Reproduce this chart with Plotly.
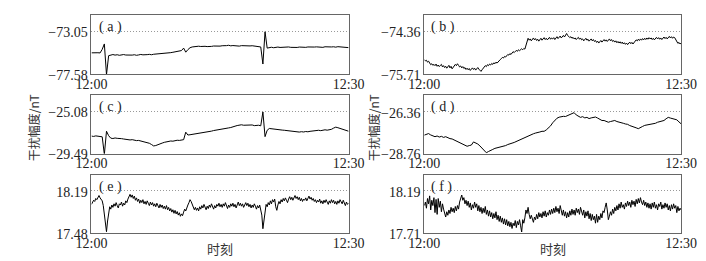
import plotly.graph_objects as go
from plotly.subplots import make_subplots

# ---------------- data (minutes after 12:00) ----------------
panel_labels = ["( a )", "( b )", "( c )", "( d )", "( e )", "( f )"]
x_tick_labels = ["12:00", "12:30"]
y_title = "干扰幅度/nT"
x_title = "时刻"

# tick values: [bottom, dotted reference]
ticks_a = [-77.58, -73.05]
ticks_b = [-75.71, -74.36]
ticks_c = [-29.49, -25.08]
ticks_d = [-28.76, -26.36]
ticks_e = [17.48, 18.19]
ticks_f = [17.71, 18.19]

# 15-s samples
vals_a = [-75.32, -75.30, -75.34, -75.31, -75.33,
          -74.95, -74.38, -77.62, -75.62,
          -75.55, -75.50, -75.56, -75.52, -75.58, -75.54, -75.50, -75.55, -75.57, -75.53, -75.56,
          -75.52, -75.58, -75.54, -75.49, -75.53, -75.56, -75.51, -75.48, -75.52, -75.47,
          -75.45, -75.48, -75.42, -75.40, -75.43, -75.36, -75.33, -75.30, -75.26, -75.22, -75.18, -75.12,
          -75.08, -74.82, -75.25, -74.98, -74.78,
          -74.70, -74.66, -74.68, -74.62, -74.65, -74.60, -74.63, -74.66, -74.61, -74.64, -74.60, -74.62, -74.58, -74.61,
          -74.57, -74.60, -74.56, -74.52, -74.58, -74.55, -74.59, -74.57, -74.61, -74.56, -74.58, -74.60, -74.55, -74.59,
          -74.57, -74.62, -74.60, -74.64, -74.70,
          -76.50, -73.10, -74.82,
          -74.76, -74.73, -74.78, -74.74, -74.71, -74.75, -74.72, -74.77, -74.73, -74.70,
          -74.74, -74.76, -74.72, -74.75, -74.71, -74.73, -74.77, -74.74, -74.70, -74.72,
          -74.75, -74.71, -74.69, -74.73, -74.70, -74.74, -74.68, -74.71, -74.66, -74.70,
          -74.68, -74.72, -74.67, -74.70, -74.73, -74.69, -74.74, -74.77]

# 7.5-s samples
vals_b = [-75.25, -75.29, -75.27, -75.33, -75.30, -75.37, -75.41, -75.38, -75.43, -75.40,
          -75.44, -75.39, -75.46, -75.42, -75.47, -75.43, -75.40, -75.48, -75.44, -75.50,
          -75.46, -75.52, -75.47, -75.43, -75.51, -75.46, -75.54, -75.49, -75.45, -75.40,
          -75.44, -75.38, -75.43, -75.48, -75.45, -75.51, -75.47, -75.53, -75.50, -75.56,
          -75.52, -75.57, -75.53, -75.59, -75.55, -75.51, -75.56, -75.52, -75.58, -75.54,
          -75.50, -75.55, -75.59, -75.62, -75.57, -75.52, -75.48, -75.44, -75.47, -75.41,
          -75.44, -75.39, -75.42, -75.37, -75.40, -75.35, -75.38, -75.33, -75.36, -75.31,
          -75.28, -75.25, -75.22, -75.18, -75.20, -75.15, -75.17, -75.12, -75.09, -75.11,
          -75.06, -75.09, -75.03, -75.00, -75.03, -74.98, -74.96, -74.99, -74.94, -74.97,
          -74.93, -74.91, -74.94, -74.90, -74.92, -74.78, -74.62, -74.58, -74.64, -74.60,
          -74.66, -74.61, -74.57, -74.63, -74.59, -74.65, -74.61, -74.67, -74.62, -74.58,
          -74.64, -74.60, -74.56, -74.62, -74.58, -74.63, -74.59, -74.55, -74.61, -74.57,
          -74.60, -74.56, -74.62, -74.57, -74.53, -74.59, -74.55, -74.51, -74.57, -74.53,
          -74.49, -74.54, -74.46, -74.43, -74.49, -74.52, -74.56, -74.53, -74.58, -74.55,
          -74.60, -74.57, -74.62, -74.58, -74.55, -74.61, -74.57, -74.63, -74.60, -74.66,
          -74.62, -74.58, -74.64, -74.61, -74.67, -74.63, -74.60, -74.66, -74.62, -74.68,
          -74.65, -74.71, -74.67, -74.73, -74.69, -74.65, -74.70, -74.66, -74.62, -74.67,
          -74.63, -74.68, -74.64, -74.60, -74.66, -74.62, -74.68, -74.65, -74.70, -74.66,
          -74.72, -74.68, -74.73, -74.69, -74.74, -74.70, -74.76, -74.72, -74.77, -74.73,
          -74.78, -74.74, -74.70, -74.75, -74.71, -74.76, -74.72, -74.67, -74.63, -74.66,
          -74.61, -74.65, -74.60, -74.64, -74.59, -74.63, -74.58, -74.62, -74.57, -74.61,
          -74.56, -74.60, -74.57, -74.62, -74.58, -74.63, -74.59, -74.55, -74.60, -74.56,
          -74.61, -74.57, -74.62, -74.58, -74.54, -74.59, -74.55, -74.60, -74.56, -74.52,
          -74.57, -74.53, -74.58, -74.54, -74.56, -74.62, -74.68, -74.74, -74.71, -74.76,
          -74.73]

# 15-s samples
vals_c = [-27.66, -27.70, -27.64, -27.68, -27.72,
          -27.74, -29.60, -27.15, -27.62,
          -27.88, -27.92, -27.86, -27.90, -27.88,
          -27.93, -27.97, -28.02, -27.99,
          -28.07, -28.04, -28.10, -28.14, -28.12, -28.18, -28.22,
          -28.25, -28.30, -28.42, -28.55, -28.70,
          -28.66,
          -28.55, -28.48, -28.40, -28.32, -28.25,
          -28.22, -28.18, -28.20, -28.14, -28.10, -28.12, -28.06,
          -28.04, -27.25,
          -27.55, -27.52, -27.48, -27.50, -27.44, -27.42,
          -27.40, -27.36, -27.30, -27.25, -27.20, -27.14, -27.08,
          -27.05, -27.00, -26.96, -26.92, -26.88, -26.84, -26.80, -26.76, -26.72,
          -26.62, -26.55, -26.50, -26.47,
          -26.52, -26.50, -26.55, -26.53, -26.49, -26.56, -26.54, -26.52, -26.58,
          -25.12, -27.72, -27.05,
          -26.86, -26.90, -26.94, -26.92, -26.97,
          -27.00, -27.03, -27.05, -27.08, -27.10, -27.14, -27.18, -27.20, -27.22,
          -27.24, -27.20, -27.23, -27.18, -27.21, -27.16, -27.12, -27.10,
          -27.08, -27.05, -27.09, -27.03, -27.00, -27.04, -27.02,
          -26.95, -26.82, -26.72, -26.78, -26.85,
          -26.88, -26.95, -27.05, -27.15]

# 15-s samples
vals_d = [-27.71, -27.64, -27.62, -27.70, -27.76,
          -27.80, -27.76, -27.82, -27.78, -27.84, -27.80,
          -27.86, -27.91, -27.93, -27.99,
          -28.05, -28.09, -28.17, -28.23, -28.30,
          -28.35, -28.31, -28.28,
          -28.10,
          -28.16, -28.22, -28.33, -28.45,
          -28.60, -28.72,
          -28.65, -28.57, -28.53, -28.47, -28.44,
          -28.41, -28.39, -28.33, -28.31, -28.25,
          -28.23, -28.17, -28.13, -28.07, -28.05,
          -27.95, -27.91, -27.84, -27.79, -27.71,
          -27.69, -27.63, -27.59, -27.54, -27.53,
          -27.49, -27.49, -27.41, -27.30,
          -27.18, -27.00, -26.85, -26.74,
          -26.68, -26.65, -26.63, -26.64, -26.59,
          -26.53, -26.45, -26.42,
          -26.55, -26.61, -26.69, -26.65,
          -26.72, -26.69, -26.76, -26.72,
          -26.70, -26.67, -26.73,
          -26.80, -26.87, -26.87, -26.93,
          -26.97, -26.93, -26.90,
          -26.87, -26.93, -26.95,
          -27.01, -27.03, -27.07,
          -27.09, -27.16, -27.19, -27.26,
          -27.29, -27.34,
          -27.25, -27.21, -27.15,
          -27.13, -27.09, -27.09, -27.05,
          -27.03, -26.97, -26.95, -26.89,
          -26.87, -26.77, -26.69,
          -26.73, -26.75, -26.80, -26.83,
          -26.95, -27.06]

# 7.5-s samples
vals_e = [17.96, 17.99, 18.03, 18.01, 18.06, 18.04, 18.09, 18.11, 18.07, 18.05,
          18.02, 17.94, 17.80, 17.62, 17.50, 17.68, 17.84, 17.92, 17.88, 17.95,
          17.91, 17.97, 17.93, 17.99, 17.94, 17.90, 17.97, 17.95, 18.00, 17.93,
          17.98, 17.95, 18.02, 17.99, 18.05, 18.09, 18.13, 18.08, 18.12, 18.06,
          18.10, 18.03, 18.07, 18.01, 18.05, 17.98, 18.03, 17.99, 18.04, 17.97,
          18.01, 17.96, 18.02, 17.98, 17.94, 18.00, 17.95, 17.99, 17.93, 17.97,
          17.92, 17.98, 17.94, 17.90, 17.96, 17.91, 17.95, 17.89, 17.93, 17.88,
          17.94, 17.87, 17.91, 17.85, 17.89, 17.83, 17.87, 17.81, 17.86, 17.80,
          17.84, 17.78, 17.82, 17.76, 17.80, 17.77, 17.83, 17.88, 17.85, 17.92,
          17.95, 17.99, 18.04, 18.01, 17.96, 17.92, 17.87, 17.91, 17.86, 17.90,
          17.85, 17.92, 17.88, 17.94, 17.90, 17.96, 17.91, 17.87, 17.93, 17.89,
          17.95, 17.91, 17.97, 17.92, 17.88, 17.94, 17.90, 17.96, 17.93, 17.98,
          17.92, 17.96, 17.91, 17.97, 17.93, 17.99, 17.94, 17.89, 17.95, 17.91,
          17.97, 17.93, 17.98, 17.92, 17.96, 17.90, 17.95, 18.00, 17.94, 17.98,
          17.93, 17.97, 17.91, 17.96, 17.99, 17.94, 17.98, 17.92, 17.96, 17.90,
          17.95, 17.91, 17.97, 17.93, 17.88, 17.94, 17.90, 17.95, 17.87, 17.78,
          17.55, 17.70, 17.88, 17.96, 17.92, 17.99, 17.95, 18.02, 17.97, 18.04,
          18.00, 18.05, 17.92, 17.86, 17.95, 18.01, 17.97, 18.04, 18.00, 18.06,
          18.02, 18.07, 18.03, 17.99, 18.05, 18.09, 18.04, 18.08, 18.03, 18.07,
          18.11, 18.06, 18.09, 18.04, 18.08, 18.02, 18.06, 18.01, 18.05, 18.03,
          18.07, 18.02, 18.06, 18.10, 18.05, 18.08, 18.03, 18.06, 18.01, 18.04,
          17.99, 18.03, 18.00, 18.05, 17.98, 18.02, 17.97, 18.03, 17.99, 18.04,
          18.00, 17.96, 18.02, 17.98, 18.04, 17.99, 18.03, 17.97, 18.01, 17.96,
          18.02, 17.98, 18.04, 18.00, 17.97, 18.03, 17.99, 17.94, 18.00, 17.96,
          17.98]

# 7.5-s samples
vals_f = [18.02, 18.06, 17.99, 18.10, 18.04, 18.13, 17.97, 18.08, 18.02, 18.11,
          17.94, 18.09, 17.92, 18.10, 18.00, 18.07, 17.95, 18.04, 17.98, 17.93,
          17.89, 17.95, 17.91, 17.97, 17.93, 18.00, 17.95, 17.99, 17.94, 18.01,
          17.96, 18.02, 17.98, 18.06, 18.10, 18.14, 18.08, 18.11, 18.04, 18.08,
          18.02, 18.07, 18.00, 18.05, 17.97, 18.03, 17.99, 18.06, 18.00, 18.04,
          17.96, 18.02, 17.95, 18.00, 17.93, 17.99, 17.94, 18.01, 17.92, 17.97,
          17.90, 17.96, 17.89, 17.94, 17.87, 17.93, 17.88, 17.95, 17.86, 17.91,
          17.84, 17.90, 17.83, 17.88, 17.81, 17.87, 17.80, 17.86, 17.79, 17.84,
          17.78, 17.83, 17.76, 17.82, 17.79, 17.85, 17.77, 17.84, 17.80, 17.86,
          17.79, 17.72, 17.86, 17.82, 17.88, 17.97, 17.93, 18.00, 17.92, 17.87,
          17.91, 17.85, 17.83, 17.89, 17.86, 17.92, 17.87, 17.94, 17.89, 17.93,
          17.88, 17.95, 17.90, 17.96, 17.89, 17.94, 17.91, 17.97, 17.92, 17.98,
          17.93, 17.99, 17.94, 18.01, 17.95, 17.99, 17.93, 18.02, 17.96, 17.91,
          17.97, 17.90, 17.95, 17.88, 17.94, 17.89, 17.96, 17.91, 17.98, 17.92,
          17.97, 17.91, 17.99, 17.94, 17.98, 17.92, 18.00, 17.95, 17.91, 17.97,
          17.88, 17.95, 17.90, 17.96, 17.87, 17.93, 17.85, 17.92, 17.86, 17.90,
          17.82, 17.92, 17.83, 17.90, 17.86, 17.93, 17.88, 17.96, 17.94, 18.00,
          18.05, 17.97, 17.86, 17.90, 17.95, 17.91, 17.98, 17.93, 18.00, 17.96,
          18.02, 17.97, 18.04, 17.99, 18.06, 18.00, 18.03, 17.98, 18.05, 18.01,
          18.07, 18.02, 18.06, 18.00, 18.08, 18.03, 18.07, 18.01, 18.09, 18.04,
          18.10, 18.05, 18.11, 18.06, 18.03, 18.08, 18.02, 18.06, 18.00, 18.05,
          17.99, 18.04, 17.98, 18.05, 18.00, 18.06, 17.99, 18.03, 17.97, 18.04,
          18.01, 18.06, 17.98, 18.03, 17.99, 18.05, 18.00, 18.04, 17.97, 18.02,
          17.96, 18.03, 17.98, 18.04, 17.99, 18.02, 17.94, 18.01, 17.96, 17.99,
          17.97]

series = [vals_a, vals_b, vals_c, vals_d, vals_e, vals_f]
tick_sets = [ticks_a, ticks_b, ticks_c, ticks_d, ticks_e, ticks_f]
# top of each y range (above the dotted reference line)
y_tops = [-71.33, -73.85, -23.32, -25.40, 18.46, 18.37]

# ---------------- layout geometry ----------------
W, H = 706, 261
col_x = [(70.7, 340.0), (419.3, 688.3)]
row_y = [(7.3, 68.7), (90.0, 150.7), (172.7, 233.0)]

serif = "Liberation Serif"
cjk = "Noto Sans CJK SC"
text_col = "#222222"

fig = make_subplots(rows=3, cols=2)

for k, vals in enumerate(series):
    r, c = k // 2, k % 2
    n = len(vals)
    t = [i * 30.0 / (n - 1) for i in range(n)]
    fig.add_trace(go.Scatter(x=t, y=vals, mode="lines",
                             line=dict(color="#000000", width=1),
                             showlegend=False, hoverinfo="skip"),
                  row=r + 1, col=c + 1)
    idx = "" if k == 0 else str(k + 1)
    x0, x1 = col_x[c]
    yt, yb = row_y[r]
    ticks = tick_sets[k]
    fig.layout["xaxis" + idx].update(
        domain=[x0 / W, x1 / W], range=[0, 30],
        tickvals=[0, 30], ticktext=x_tick_labels,
        showgrid=False, zeroline=False, ticks="", ticklen=0,
        ticklabelstandoff=-3,
        showline=True, mirror=True, linecolor="#666666", linewidth=1,
        tickfont=dict(family=serif, size=14, color=text_col))
    span = ticks[1] - ticks[0]
    fig.layout["yaxis" + idx].update(
        domain=[(H - yb) / H, (H - yt) / H],
        range=[ticks[0] - span * 0.002, y_tops[k]],
        tickvals=ticks, tickformat=".2f",
        showgrid=True, gridcolor="#999999", griddash="1px,2px", gridwidth=1,
        zeroline=False, ticks="", ticklen=0, ticklabelshift=1,
        showline=True, mirror=True, linecolor="#666666", linewidth=1,
        tickfont=dict(family=serif, size=14, color=text_col))
    fig.add_annotation(text=panel_labels[k], xref="x" + idx + " domain", yref="y" + idx + " domain",
                       x=0.02, y=0.79, xanchor="left", yanchor="middle", showarrow=False,
                       font=dict(family=serif, size=14, color=text_col))

# axis titles
for xc in (10, 366):
    fig.add_annotation(text=y_title, xref="paper", yref="paper", x=xc / W, y=(H - 124) / H,
                       textangle=-90, showarrow=False, xanchor="center", yanchor="middle",
                       font=dict(family=cjk, size=12, color="#333333"))
for xc in (205.5, 554):
    fig.add_annotation(text=x_title, xref="paper", yref="paper", x=xc / W, y=(H - 249) / H,
                       showarrow=False, xanchor="center", yanchor="middle",
                       font=dict(family=cjk, size=13, color="#333333"))

fig.update_layout(width=W, height=H, margin=dict(l=0, r=0, t=0, b=0),
                  paper_bgcolor="white", plot_bgcolor="white")

fig.write_html("out.html")
